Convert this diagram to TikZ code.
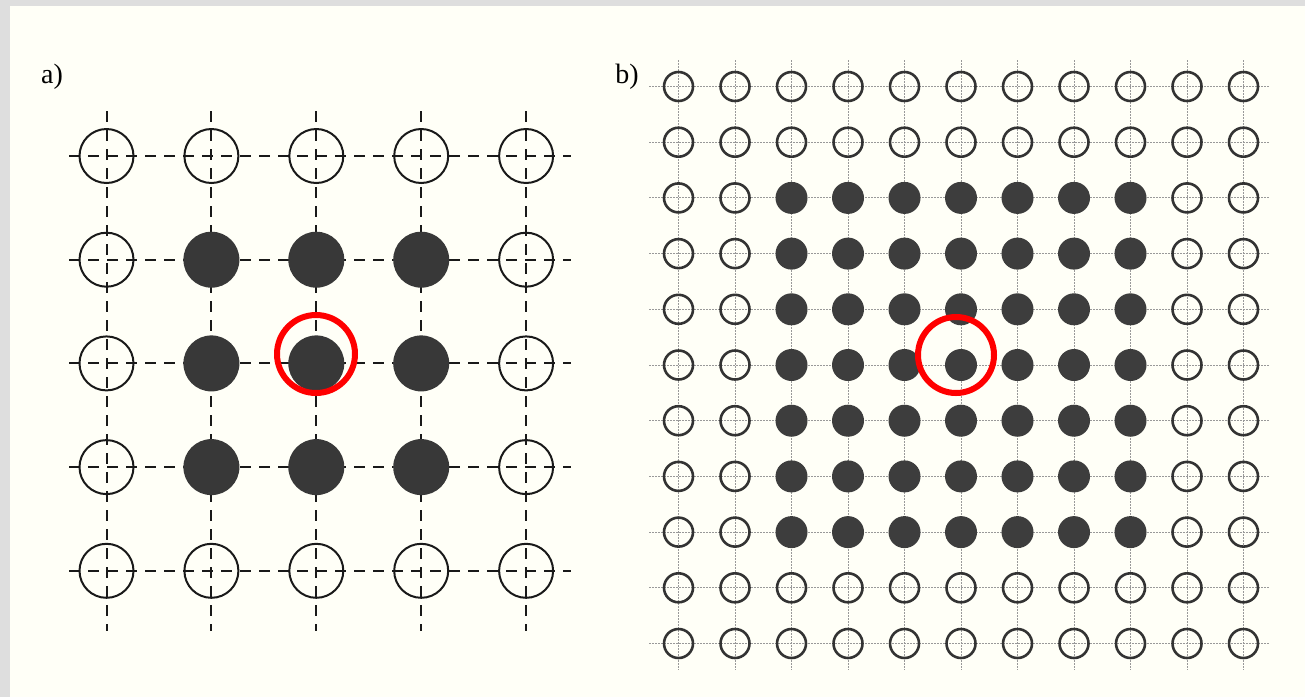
\documentclass[tikz,border=0pt]{standalone}
\usepackage{fontspec}
\setmainfont{Liberation Serif}
\begin{document}
\begin{tikzpicture}[x=1pt,y=-1pt,
  opena/.style={circle,draw=black!90,line width=2pt,minimum size=54pt,inner sep=0pt},
  filla/.style={circle,fill=black!78,minimum size=56pt,inner sep=0pt},
  gridA/.style={line width=2pt,black!90,dash pattern=on 11pt off 8pt},
  openb/.style={circle,draw=black!80,line width=2.6pt,minimum size=29pt,inner sep=0pt},
  fillb/.style={circle,fill=black!76,minimum size=32pt,inner sep=0pt},
  gridB/.style={line width=0.9pt,black!40,dash pattern=on 1.5pt off 1.5pt},
  hilite/.style={circle,draw=red,line width=6pt,inner sep=0pt},
  lbl/.style={font=\fontsize{28}{30}\selectfont,inner sep=0pt}
]
\fill[black!13] (0,0) rectangle (1305,697);
\fill[white!97!yellow] (10,6) rectangle (1305,697);
\useasboundingbox (0,0) rectangle (1305,697);

% labels
\node[lbl] (la) at (52,77) {a)};
\node[lbl] (lb) at (627,77) {b)};

% ---------- panel a ----------
\foreach \i in {0,...,4}{
  \coordinate (ah\i w) at (69,{156+103.7*\i});
  \coordinate (ah\i e) at (571,{156+103.7*\i});
  \draw[gridA] (ah\i w) -- (ah\i e);
  \coordinate (av\i n) at ({106.5+104.9*\i},111);
  \coordinate (av\i s) at ({106.5+104.9*\i},631);
  \draw[gridA] (av\i n) -- (av\i s);
}
\foreach \i in {0,...,4}{
  \foreach \j in {0,...,4}{
    \pgfmathtruncatemacro{\inner}{(\i>0)&&(\i<4)&&(\j>0)&&(\j<4)}
    \ifnum\inner=1
      \node[filla] (a-\i-\j) at ({106.5+104.9*\i},{156+103.7*\j}) {};
    \else
      \node[opena] (a-\i-\j) at ({106.5+104.9*\i},{156+103.7*\j}) {};
    \fi
  }
}
\node[hilite,minimum size=78pt] (ha) at (316,354) {};

% ---------- panel b ----------
\foreach \i in {0,...,10}{
  \coordinate (bh\i w) at (649,{86.5+55.7*\i});
  \coordinate (bh\i e) at (1270,{86.5+55.7*\i});
  \draw[gridB] (bh\i w) -- (bh\i e);
  \coordinate (bv\i n) at ({678.5+56.5*\i},60);
  \coordinate (bv\i s) at ({678.5+56.5*\i},670);
  \draw[gridB] (bv\i n) -- (bv\i s);
}
\foreach \i in {0,...,10}{
  \foreach \j in {0,...,10}{
    \pgfmathtruncatemacro{\inner}{(\i>1)&&(\i<9)&&(\j>1)&&(\j<9)}
    \ifnum\inner=1
      \node[fillb] (b-\i-\j) at ({678.5+56.5*\i},{86.5+55.7*\j}) {};
    \else
      \node[openb] (b-\i-\j) at ({678.5+56.5*\i},{86.5+55.7*\j}) {};
    \fi
  }
}
\node[hilite,minimum size=76pt] (hb) at (956,355) {};
\end{tikzpicture}
\end{document}
